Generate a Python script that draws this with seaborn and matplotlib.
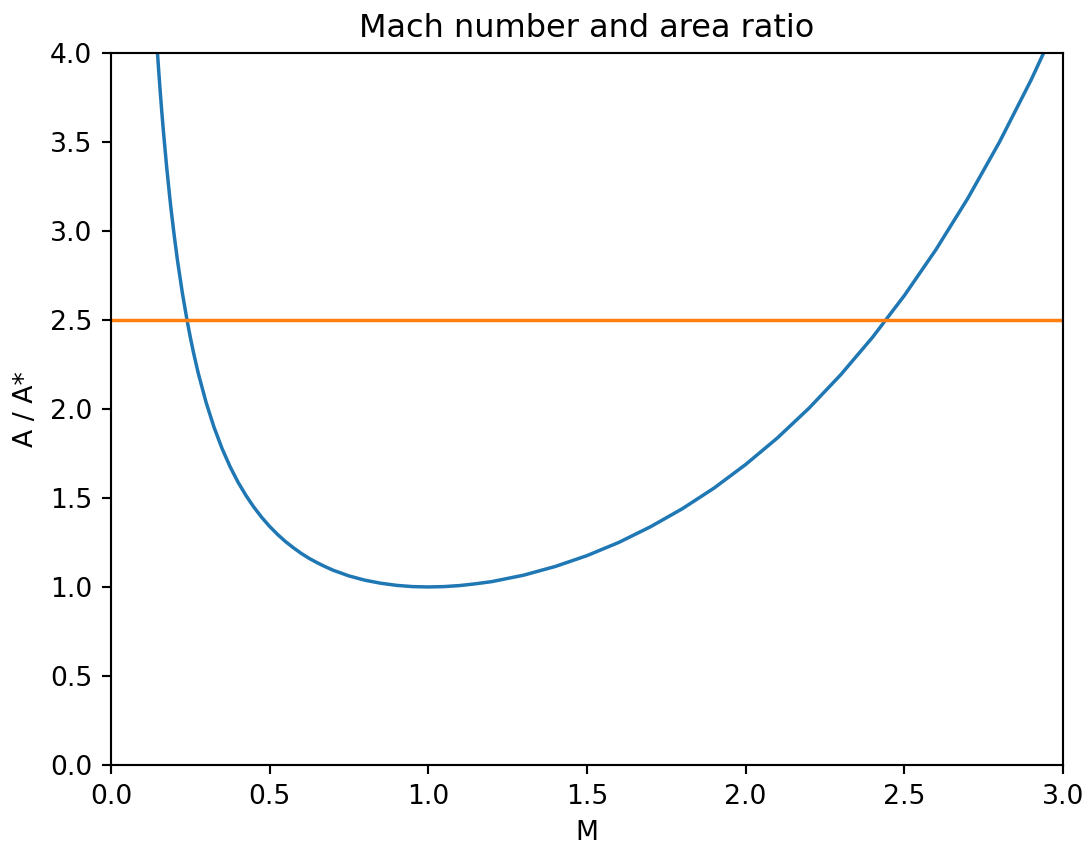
import matplotlib
matplotlib.use("Agg")
import matplotlib.pyplot as plt
import seaborn as sns
import pandas as pd

# Mach number vs area ratio
mach = [0.14, 0.145, 0.15, 0.155, 0.16, 0.165, 0.175, 0.185, 0.19, 0.2, 0.21,
        0.225, 0.24, 0.25, 0.26, 0.275, 0.3, 0.325, 0.35, 0.375, 0.4, 0.425,
        0.45, 0.475, 0.5, 0.525, 0.55, 0.575, 0.6, 0.625, 0.65, 0.675, 0.7,
        0.75, 0.8, 0.85, 0.9, 0.95, 1.0, 1.05, 1.1, 1.15, 1.2, 1.3, 1.4,
        1.5, 1.6, 1.7, 1.8, 1.9, 2.0, 2.1, 2.2, 2.3, 2.4, 2.5, 2.6, 2.7,
        2.8, 2.9, 3.0]
area_ratio = [4.182, 4.042, 3.910, 3.788, 3.673, 3.565, 3.368, 3.193, 3.112,
              2.964, 2.829, 2.651, 2.496, 2.403, 2.317, 2.201, 2.035, 1.896,
              1.778, 1.677, 1.590, 1.515, 1.449, 1.391, 1.340, 1.295, 1.255,
              1.220, 1.188, 1.160, 1.136, 1.114, 1.094, 1.062, 1.038, 1.021,
              1.009, 1.002, 1.000, 1.002, 1.008, 1.018, 1.030, 1.066, 1.115,
              1.176, 1.250, 1.338, 1.439, 1.555, 1.688, 1.837, 2.005, 2.193,
              2.403, 2.637, 2.896, 3.183, 3.500, 3.850, 4.235]
target_ratio = 2.5

df = pd.DataFrame({"M": mach, "ratio": area_ratio})

fig, ax = plt.subplots(figsize=(1088 / 192, 849 / 192), dpi=192)
fig.subplots_adjust(left=0.102, right=0.977, top=0.9376, bottom=0.099)

sns.lineplot(data=df, x="M", y="ratio", ax=ax, color="C0", linewidth=1.3)
ax.axhline(target_ratio, color="C1", linewidth=1.3)

ax.set_xlim(0, 3)
ax.set_ylim(0, 4)
ax.set_title("Mach number and area ratio")
ax.set_xlabel("M")
ax.set_ylabel("A / A*")

fig.savefig("out.png", dpi=192)
